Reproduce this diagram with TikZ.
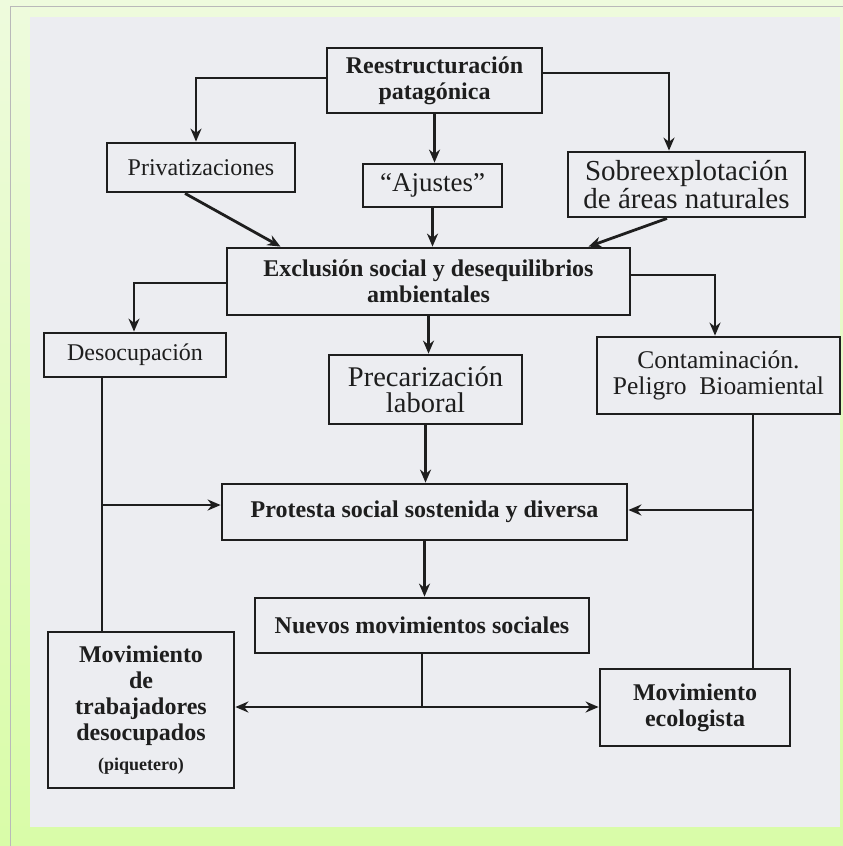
\documentclass[tikz,border=0pt]{standalone}
\usepackage{fontspec}
\setmainfont{Liberation Serif}
\usepackage{tikz}
\usetikzlibrary{arrows.meta, positioning, calc}
\usepackage{xcolor}
\definecolor{framegreen}{HTML}{EEFBDD}
\definecolor{framegreendeep}{HTML}{D9FCA8}
\definecolor{scangray}{HTML}{ECEDF1}
\definecolor{inkgray}{HTML}{1E1E1E}
\tikzset{%
	every box/.style={
		draw=inkgray,
		line width=2.8pt,
		fill=scangray,
		text=inkgray,
		align=center,
		inner sep=0pt
	},
	boldbox/.style={
		every box,
		font=\fontsize{24}{26}\selectfont\bfseries
	},
	plainbox/.style={
		every box,
		font=\fontsize{#1}{26}\selectfont
	},
	link/.style={
		draw=inkgray,
		line width=2.8pt,
		-{Stealth[length=13pt,width=11pt]}
	},
	joint/.style={
		draw=inkgray,
		line width=2.8pt
	},
}

\begin{document}
\begin{tikzpicture}[x=1pt, y=-1pt]
			% page, green frame and scanned sheet
			\useasboundingbox (0,0) rectangle (843,846);
			\shade[top color=framegreen, bottom color=framegreendeep] (0,0) rectangle (843,846);
			\draw[gray!55, line width=1pt] (10,6) rectangle (870,870);
			\fill[scangray] (30,17) rectangle (840,827);
			
			% first level
			\node[boldbox, minimum width=215pt, minimum height=65pt] (reest) at (434.5,80.5) {Reestructuración\\patagónica};
			\node[plainbox=24, minimum width=188pt, minimum height=49pt] (priv) at (201,167.5) {Privatizaciones};
			\node[plainbox=27, minimum width=139pt, minimum height=43pt] (ajus) at (432.5,185.5) {“Ajustes”};
			\node[plainbox=29, minimum width=237pt, minimum height=65pt] (sobre) at (686.5,184.5) {Sobreexplotación\\de áreas naturales};
			
			% second level
			\node[boldbox, minimum width=403pt, minimum height=67pt] (excl) at (428.5,281.5) {Exclusión social y desequilibrios\\ambientales};
			\node[plainbox=24, minimum width=182pt, minimum height=44pt] (deso) at (135,355) {Desocupación};
			\node[plainbox=28.5, minimum width=193pt, minimum height=69pt] (prec) at (425.5,389.5) {Precarización\\laboral};
			\node[plainbox=25.5, minimum width=243pt, minimum height=77pt] (cont) at (718.5,375.5) {Contaminación.\\Peligro\ \ Bioamiental};
			
			% third level
			\node[boldbox, minimum width=405pt, minimum height=56pt] (prot) at (424.5,512) {Protesta social sostenida y diversa};
			\node[boldbox, minimum width=334pt, minimum height=55pt] (nuev) at (422,625.5) {Nuevos movimientos sociales};
			\node[boldbox, minimum width=186pt, minimum height=156pt] (trab) at (141,710) {Movimiento\\de\\trabajadores\\desocupados\\[4pt]{\fontsize{18}{20}\selectfont(piquetero)}};
			\node[boldbox, minimum width=190pt, minimum height=77pt] (ecol) at (695,707.5) {Movimiento\\ecologista};
			
			% helper points
			\coordinate (dl) at (102,505);
			\coordinate (dr) at (753,510);
			\coordinate (nj) at (422,707);
			
			% connectors
			\draw[link] ([yshift=2.5]reest.west) -| ([xshift=-5]priv.north);
			\draw[link] ([yshift=7.5]reest.east) -| ([xshift=-17.5]sobre.north);
			\draw[link] (reest.south) -- (reest.south |- ajus.north);
			\draw[link] ([xshift=-16]priv.south) -- ([xshift=-148]excl.north);
			\draw[link] (ajus.south) -- (ajus.south |- excl.north);
			\draw[link] ([xshift=-19.5]sobre.south) -- ([xshift=160]excl.north);
			\draw[link] ([yshift=-1.5]excl.west) -| ([xshift=-1]deso.north);
			\draw[link] ([yshift=6.5]excl.east) -| ([xshift=-3.5]cont.north);
			\draw[link] (excl.south) -- (excl.south |- prec.north);
			\draw[link] (prec.south) -- (prec.south |- prot.north);
			\draw[joint] (deso.south -| dl) -- (trab.north -| dl);
			\draw[link] (dl) -- (dl -| prot.west);
			\draw[joint] (cont.south -| dr) -- (ecol.north -| dr);
			\draw[link] (dr) -- (dr -| prot.east);
			\draw[link] (prot.south) -- (prot.south |- nuev.north);
			\draw[joint] (nuev.south) -- (nj);
			\draw[link, {Stealth[length=13pt,width=11pt]}-{Stealth[length=13pt,width=11pt]}] (nj -| trab.east) -- (nj -| ecol.west);
		\end{tikzpicture}
\end{document}
